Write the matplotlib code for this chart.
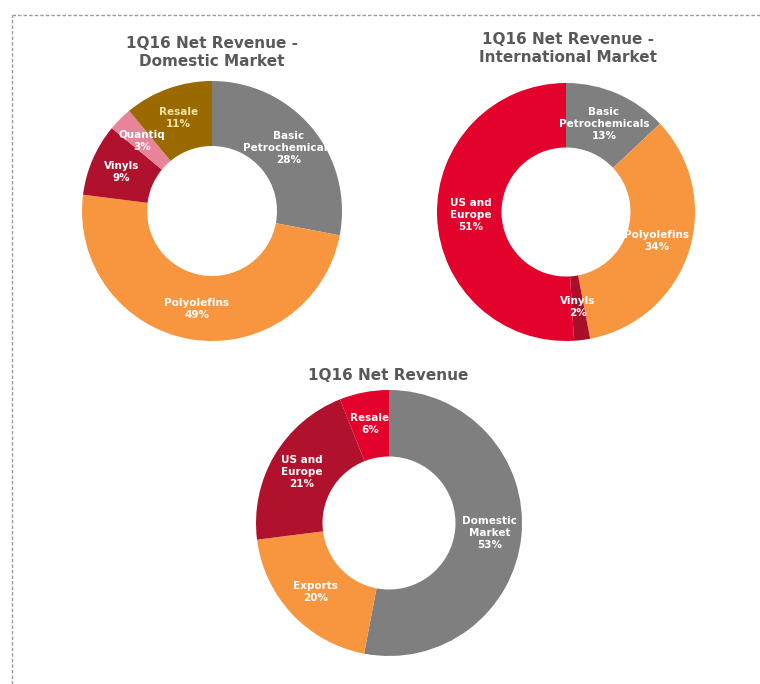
import matplotlib.pyplot as plt
from matplotlib.lines import Line2D

# Domestic market split
dom_labels = ['Basic\nPetrochemicals', 'Polyolefins', 'Vinyls', 'Quantiq', 'Resale']
dom_values = [28, 49, 9, 3, 11]
dom_colors = ['#7f7f7f', '#f7963f', '#b0112c', '#e8849a', '#9a6a00']
dom_text = ['white', 'white', 'white', 'white', '#f3e3a6']

# International market split
intl_labels = ['Basic\nPetrochemicals', 'Polyolefins', 'Vinyls', 'US and\nEurope']
intl_values = [13, 34, 2, 51]
intl_colors = ['#7f7f7f', '#f7963f', '#a8102a', '#e3022c']
intl_text = ['white'] * 4

# Total net revenue split
tot_labels = ['Domestic\nMarket', 'Exports', 'US and\nEurope', 'Resale']
tot_values = [53, 20, 21, 6]
tot_colors = ['#7f7f7f', '#f7963f', '#b0112c', '#e3022c']
tot_text = ['white'] * 4

W, H = 760, 684
fig = plt.figure(figsize=(W / 100, H / 100), dpi=100)
fig.patch.set_facecolor('white')

title_kw = dict(ha='center', va='center', fontsize=11, fontweight='bold', color='#595959')


def donut(cx, cy, r, labels, values, colors, tcolors, dist=0.76):
    ax = fig.add_axes([(cx - r) / W, 1 - (cy + r) / H, 2 * r / W, 2 * r / H])
    wedges, texts, autotexts = ax.pie(values, colors=colors, startangle=90, counterclock=False,
                                      radius=1, autopct='%d%%', pctdistance=dist,
                                      wedgeprops=dict(width=0.5, linewidth=0))
    for t, lab, v, c in zip(autotexts, labels, values, tcolors):
        t.set_text(f'{lab}\n{v}%')
        t.set_color(c)
        t.set_fontsize(7.5)
        t.set_fontweight('bold')
        t.set_linespacing(1.25)
    ax.set_xlim(-1, 1)
    ax.set_ylim(-1, 1)
    ax.set_aspect('equal')
    ax.axis('off')
    return ax


donut(212, 211, 130, dom_labels, dom_values, dom_colors, dom_text)
donut(566, 212, 129, intl_labels, intl_values, intl_colors, intl_text, dist=0.74)
donut(389, 523, 133, tot_labels, tot_values, tot_colors, tot_text)

fig.text(212 / W, 1 - 44 / H, '1Q16 Net Revenue -', **title_kw)
fig.text(212 / W, 1 - 61 / H, 'Domestic Market', **title_kw)
fig.text(568 / W, 1 - 40 / H, '1Q16 Net Revenue -', **title_kw)
fig.text(568 / W, 1 - 58 / H, 'International Market', **title_kw)
fig.text(388 / W, 1 - 376 / H, '1Q16 Net Revenue', **title_kw)

# dashed frame (top and left edges)
border = dict(color='#9a9a9a', lw=1, ls=(0, (2.5, 1.5)))
fig.add_artist(Line2D([12 / W, 1], [1 - 15 / H, 1 - 15 / H], transform=fig.transFigure, **border))
fig.add_artist(Line2D([12 / W, 12 / W], [0, 1 - 15 / H], transform=fig.transFigure, **border))

fig.savefig('out.png', dpi=100, facecolor='white')
